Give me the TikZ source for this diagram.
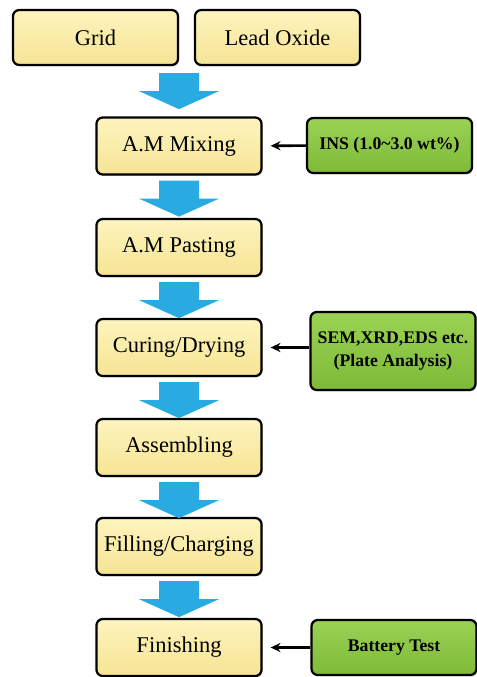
\documentclass[tikz,border=0pt]{standalone}
\usepackage{fontspec}
\setmainfont{Liberation Serif}
\usetikzlibrary{calc,shadows,arrows.meta}

\definecolor{padtop}{RGB}{253,244,190}
\definecolor{padbot}{RGB}{246,228,148}
\definecolor{addtop}{RGB}{155,210,85}
\definecolor{addbot}{RGB}{126,186,55}
\definecolor{flowblue}{RGB}{41,171,226}

\begin{document}
\begin{tikzpicture}[x=0.025cm,y=-0.025cm,
  stage/.style={draw=black,line width=1.6pt,rounded corners=4.5pt,
    top color=padtop,bottom color=padbot,
    minimum width=4.125cm,minimum height=1.425cm,
    font=\fontsize{16}{19}\selectfont,
    drop shadow={opacity=0.35,shadow xshift=0.8pt,shadow yshift=-1pt}},
  addbox/.style={stage,top color=addtop,bottom color=addbot,
    minimum height=1.375cm,font=\fontsize{12.6}{16.5}\selectfont\bfseries},
  feed/.style={-{Stealth[length=7pt,width=6.5pt]},line width=1.8pt,shorten >=0.2cm},
  pics/downflow/.style={code={
    \fill[flowblue] (-20,0) -- (20,0) -- (20,18) -- (40,18) -- (0,36)
      -- (-40,18) -- (-20,18) -- cycle;}}]
  \useasboundingbox (0,0) rectangle (477,677);
  % raw materials
  \node[stage,minimum height=1.375cm] (grid) at (95.5,37.5) {Grid};
  \node[stage,minimum height=1.375cm] (lead) at (277.5,37.5) {Lead Oxide};
  % process steps
  \node[stage] (mix) at (179,146) {A.M Mixing};
  \node[stage] (paste) at (179,247.5) {A.M Pasting};
  \node[stage] (cure) at (179,347.5) {Curing/Drying};
  \node[stage] (assem) at (179,447.5) {Assembling};
  \node[stage] (charge) at (179,546.5) {Filling/Charging};
  \node[stage] (finish) at (179,647.5) {Finishing};
  % blue flow arrows
  \pic at ($(grid.south -| mix.north)+(0,7)$) {downflow};
  \pic at ($(mix.south)+(0,5)$) {downflow};
  \pic at ($(paste.south)+(0,5)$) {downflow};
  \pic at ($(cure.south)+(0,5)$) {downflow};
  \pic at ($(assem.south)+(0,5)$) {downflow};
  \pic at ($(charge.south)+(0,5)$) {downflow};
  % additions and tests
  \node[addbox] (ins) at (389.5,145.5) {INS (1.0\textasciitilde3.0 wt\%)};
  \node[addbox,minimum height=1.95cm,align=center] (sem) at (393,351)
    {SEM,XRD,EDS etc.\\(Plate Analysis)};
  \node[addbox] (test) at (394,647.5) {Battery Test};
  \draw[feed] (ins) -- (mix);
  \draw[feed] (sem.west |- cure) -- (cure);
  \draw[feed] (test) -- (finish);
\end{tikzpicture}
\end{document}
